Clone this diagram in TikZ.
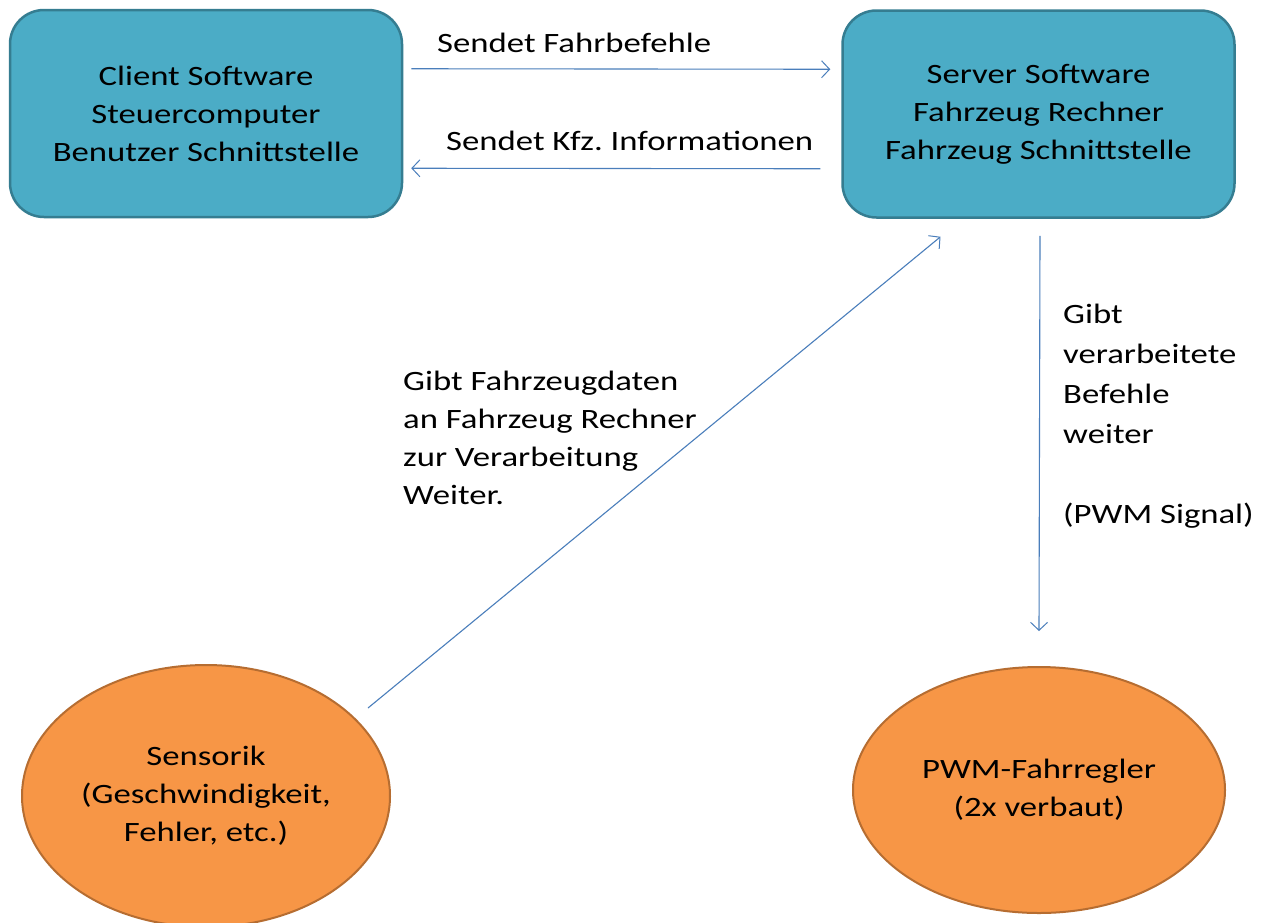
\documentclass[tikz,border=0pt]{standalone}
\usepackage{fontspec}
\setmainfont{Carlito}[FakeStretch=1.24]
\frenchspacing
\usetikzlibrary{shapes.geometric,arrows.meta}
\definecolor{boxfill}{HTML}{4BACC6}
\definecolor{boxline}{HTML}{357D91}
\definecolor{ovalfill}{HTML}{F79646}
\definecolor{ovalline}{HTML}{B66D31}
\definecolor{conn}{HTML}{4A7EBB}
\begin{document}
\begin{tikzpicture}[x=1pt,y=-1pt,
  txt/.style={font=\fontsize{28}{38}\selectfont, text=black},
  boxnode/.style={txt, draw=boxline, line width=2.5pt, fill=boxfill, rounded corners=34pt,
     minimum width=392pt, minimum height=207pt, align=center, inner sep=0pt},
  ovalnode/.style={txt, ellipse, draw=ovalline, line width=2pt, fill=ovalfill,
     minimum width=370pt, minimum height=250pt, align=center, inner sep=0pt},
  conarrow/.style={draw=conn, line width=1.1pt, -{Straight Barb[length=8pt,width=17pt,line width=1pt]}},
  lbl/.style={txt, inner sep=0pt, align=left}]
\useasboundingbox (0,0) rectangle (1264,922);
\fill[white] (0,0) rectangle (1264,922);
\node[boxnode] (client) at (206,113.5) {Client Software\\Steuercomputer\\Benutzer Schnittstelle};
\node[boxnode] (server) at (1038.5,114) {Server Software\\Fahrzeug Rechner\\Fahrzeug Schnittstelle};
\node[ovalnode, minimum width=368pt, minimum height=262pt] (sens) at (206,796) {Sensorik\\(Geschwindigkeit,\\Fehler, etc.)};
\node[ovalnode, minimum width=372pt, minimum height=246pt] (pwm) at (1039,790) {PWM-Fahrregler\\(2x verbaut)};
% connectors
\draw[conarrow] ([xshift=8pt,yshift=-60pt]client.north east) -- ([xshift=-11pt,yshift=-60pt]server.north west);
\draw[conarrow] ([xshift=-21pt,yshift=50pt]server.south west) -- ([xshift=8pt,yshift=50pt]client.south east);
\draw[conarrow] ([xshift=162pt,yshift=88pt]sens.center) -- ([xshift=-98pt,yshift=-18pt]server.south);
\draw[conarrow] ([xshift=1.5pt,yshift=-17pt]server.south) -- ([yshift=35pt]pwm.north);
% labels
\node[lbl, anchor=base west] (l1) at (437,52) {Sendet Fahrbefehle};
\node[lbl, anchor=base west] (l2) at (446,150) {Sendet Kfz. Informationen};
\node[lbl, anchor=north west] (l3) at (403,371) {Gibt Fahrzeugdaten\\an Fahrzeug Rechner\\zur Verarbeitung\\Weiter.};
\node[lbl, anchor=north west, font=\fontsize{28}{40}\selectfont] (l4) at (1063,304) {Gibt\\verarbeitete\\Befehle\\weiter\\[40pt](PWM Signal)};
\end{tikzpicture}
\end{document}
